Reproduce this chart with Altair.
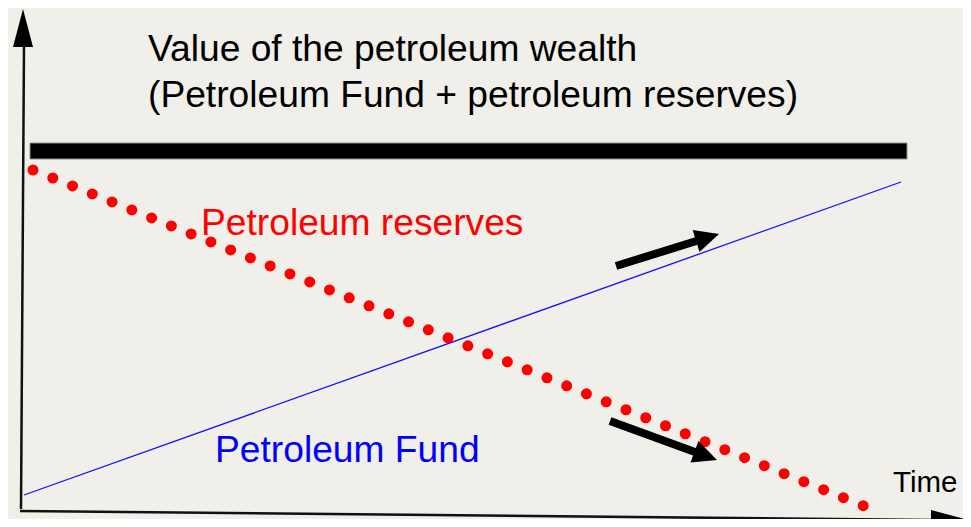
import altair as alt
import pandas as pd
import numpy as np

BG = "#f0efe9"
FONT = "Liberation Sans"

# Conceptual coordinates: t = time, v = value (origin at the axes' corner)
wealth_t = [8, 885]
wealth_v = [352, 368]
fund_t = [2, 879]
fund_v = [16, 329]
reserves_t = [11, 842]
reserves_v = [341, 5]

yaxis_t = [2, -1]
yaxis_v = [466, 2]
xaxis_t = [-2, 910]
xaxis_v = [0, -9]
axis_head_t = [1, 928]
axis_head_v = [483, -9]
axis_head_dir = ["up", "right"]

arrow_start_t = [594, 588]
arrow_start_v = [245, 90]
arrow_tip_t = [697, 695]
arrow_tip_v = [277, 51]

text_labels = ["Value of the petroleum wealth", "(Petroleum Fund + petroleum reserves)",
               "Petroleum reserves", "Petroleum Fund", "Time"]
text_t = [126, 126, 179, 193, 871]
text_v = [450, 404, 276, 49, 19]
text_colors = ["#000000", "#000000", "#ff0000", "#0000ff", "#000000"]
text_sizes = [37.2, 37.2, 37.2, 37.2, 29.5]

xs = alt.Scale(domain=[-14, 941], nice=False, zero=False)
ys = alt.Scale(domain=[-8, 503], nice=False, zero=False)

def X(f="t"):
    return alt.X(f"{f}:Q", scale=xs, axis=None)

def Y(f="v"):
    return alt.Y(f"{f}:Q", scale=ys, axis=None)

# wealth bar
wealth_df = pd.DataFrame({"t": [wealth_t[0]], "t2": [wealth_t[1]],
                          "v": [wealth_v[0]], "v2": [wealth_v[1]]})
wealth = alt.Chart(wealth_df).mark_rect(color="black", stroke="#8e8e86", strokeWidth=1).encode(
    x=X(), x2="t2:Q", y=Y(), y2="v2:Q")

# fund line
fund = alt.Chart(pd.DataFrame({"t": fund_t, "v": fund_v})).mark_line(
    color="#1010ff", strokeWidth=1.3).encode(x=X(), y=Y())

# reserves dotted line
L = float(np.hypot(reserves_t[1] - reserves_t[0], reserves_v[1] - reserves_v[0]))
period = L / 42 * 0.999
reserves = alt.Chart(pd.DataFrame({"t": reserves_t, "v": reserves_v})).mark_line(
    color="#ff0000", strokeWidth=11, strokeCap="round", strokeDash=[0, period]).encode(x=X(), y=Y())

# axes lines
axes_df = pd.DataFrame({"t": [yaxis_t[0], xaxis_t[0]], "v": [yaxis_v[0], xaxis_v[0]],
                        "t2": [yaxis_t[1], xaxis_t[1]], "v2": [yaxis_v[1], xaxis_v[1]]})
axes = alt.Chart(axes_df).mark_rule(color="#111111", strokeWidth=2.5).encode(
    x=X(), y=Y(), x2="t2:Q", y2="v2:Q")

head_df = pd.DataFrame({"t": axis_head_t, "v": axis_head_v,
                        "angle": [270 if d == "up" else 0 for d in axis_head_dir]})
heads = alt.Chart(head_df).mark_point(
    shape="M-1,-0.526L1,0L-1,0.526Z", size=1444, filled=True, color="black", opacity=1,
    strokeWidth=0).encode(x=X(), y=Y(), angle=alt.Angle("angle:Q", scale=None))

# trend arrows
st = np.array(arrow_start_t, float); sv = np.array(arrow_start_v, float)
tt = np.array(arrow_tip_t, float); tv = np.array(arrow_tip_v, float)
dx = tt - st; dy = tv - sv
ln = np.hypot(dx, dy)
ux = dx / ln; uy = dy / ln
head_len = 24.0
shaft_df = pd.DataFrame({"t": st, "v": sv, "t2": tt - ux * (head_len - 2), "v2": tv - uy * (head_len - 2)})
shaft = alt.Chart(shaft_df).mark_rule(color="black", strokeWidth=8).encode(
    x=X(), y=Y(), x2="t2:Q", y2="v2:Q")
ahead_df = pd.DataFrame({"t": tt - ux * head_len / 2, "v": tv - uy * head_len / 2,
                         "angle": np.mod(np.degrees(np.arctan2(-dy, dx)), 360)})
aheads = alt.Chart(ahead_df).mark_point(
    shape="M-1,-0.96L1,0L-1,0.96Z", size=head_len ** 2, filled=True, color="black", opacity=1,
    strokeWidth=0).encode(x=X(), y=Y(), angle=alt.Angle("angle:Q", scale=None))

# texts
text_df = pd.DataFrame({"label": text_labels, "t": text_t, "v": text_v,
                        "color": text_colors, "size": text_sizes})
texts = alt.Chart(text_df).mark_text(align="left", baseline="alphabetic", font=FONT).encode(
    x=X(), y=Y(), text="label:N",
    color=alt.Color("color:N", scale=None),
    size=alt.Size("size:Q", scale=None))

chart = alt.layer(fund, reserves, texts, shaft, aheads, wealth, axes, heads).properties(
    width=955, height=511, padding=0,
    autosize=alt.AutoSizeParams(type="none"),
    background=BG,
).configure_view(stroke=None)

chart.save("out.html", embed_options={"renderer": "svg", "actions": False})
